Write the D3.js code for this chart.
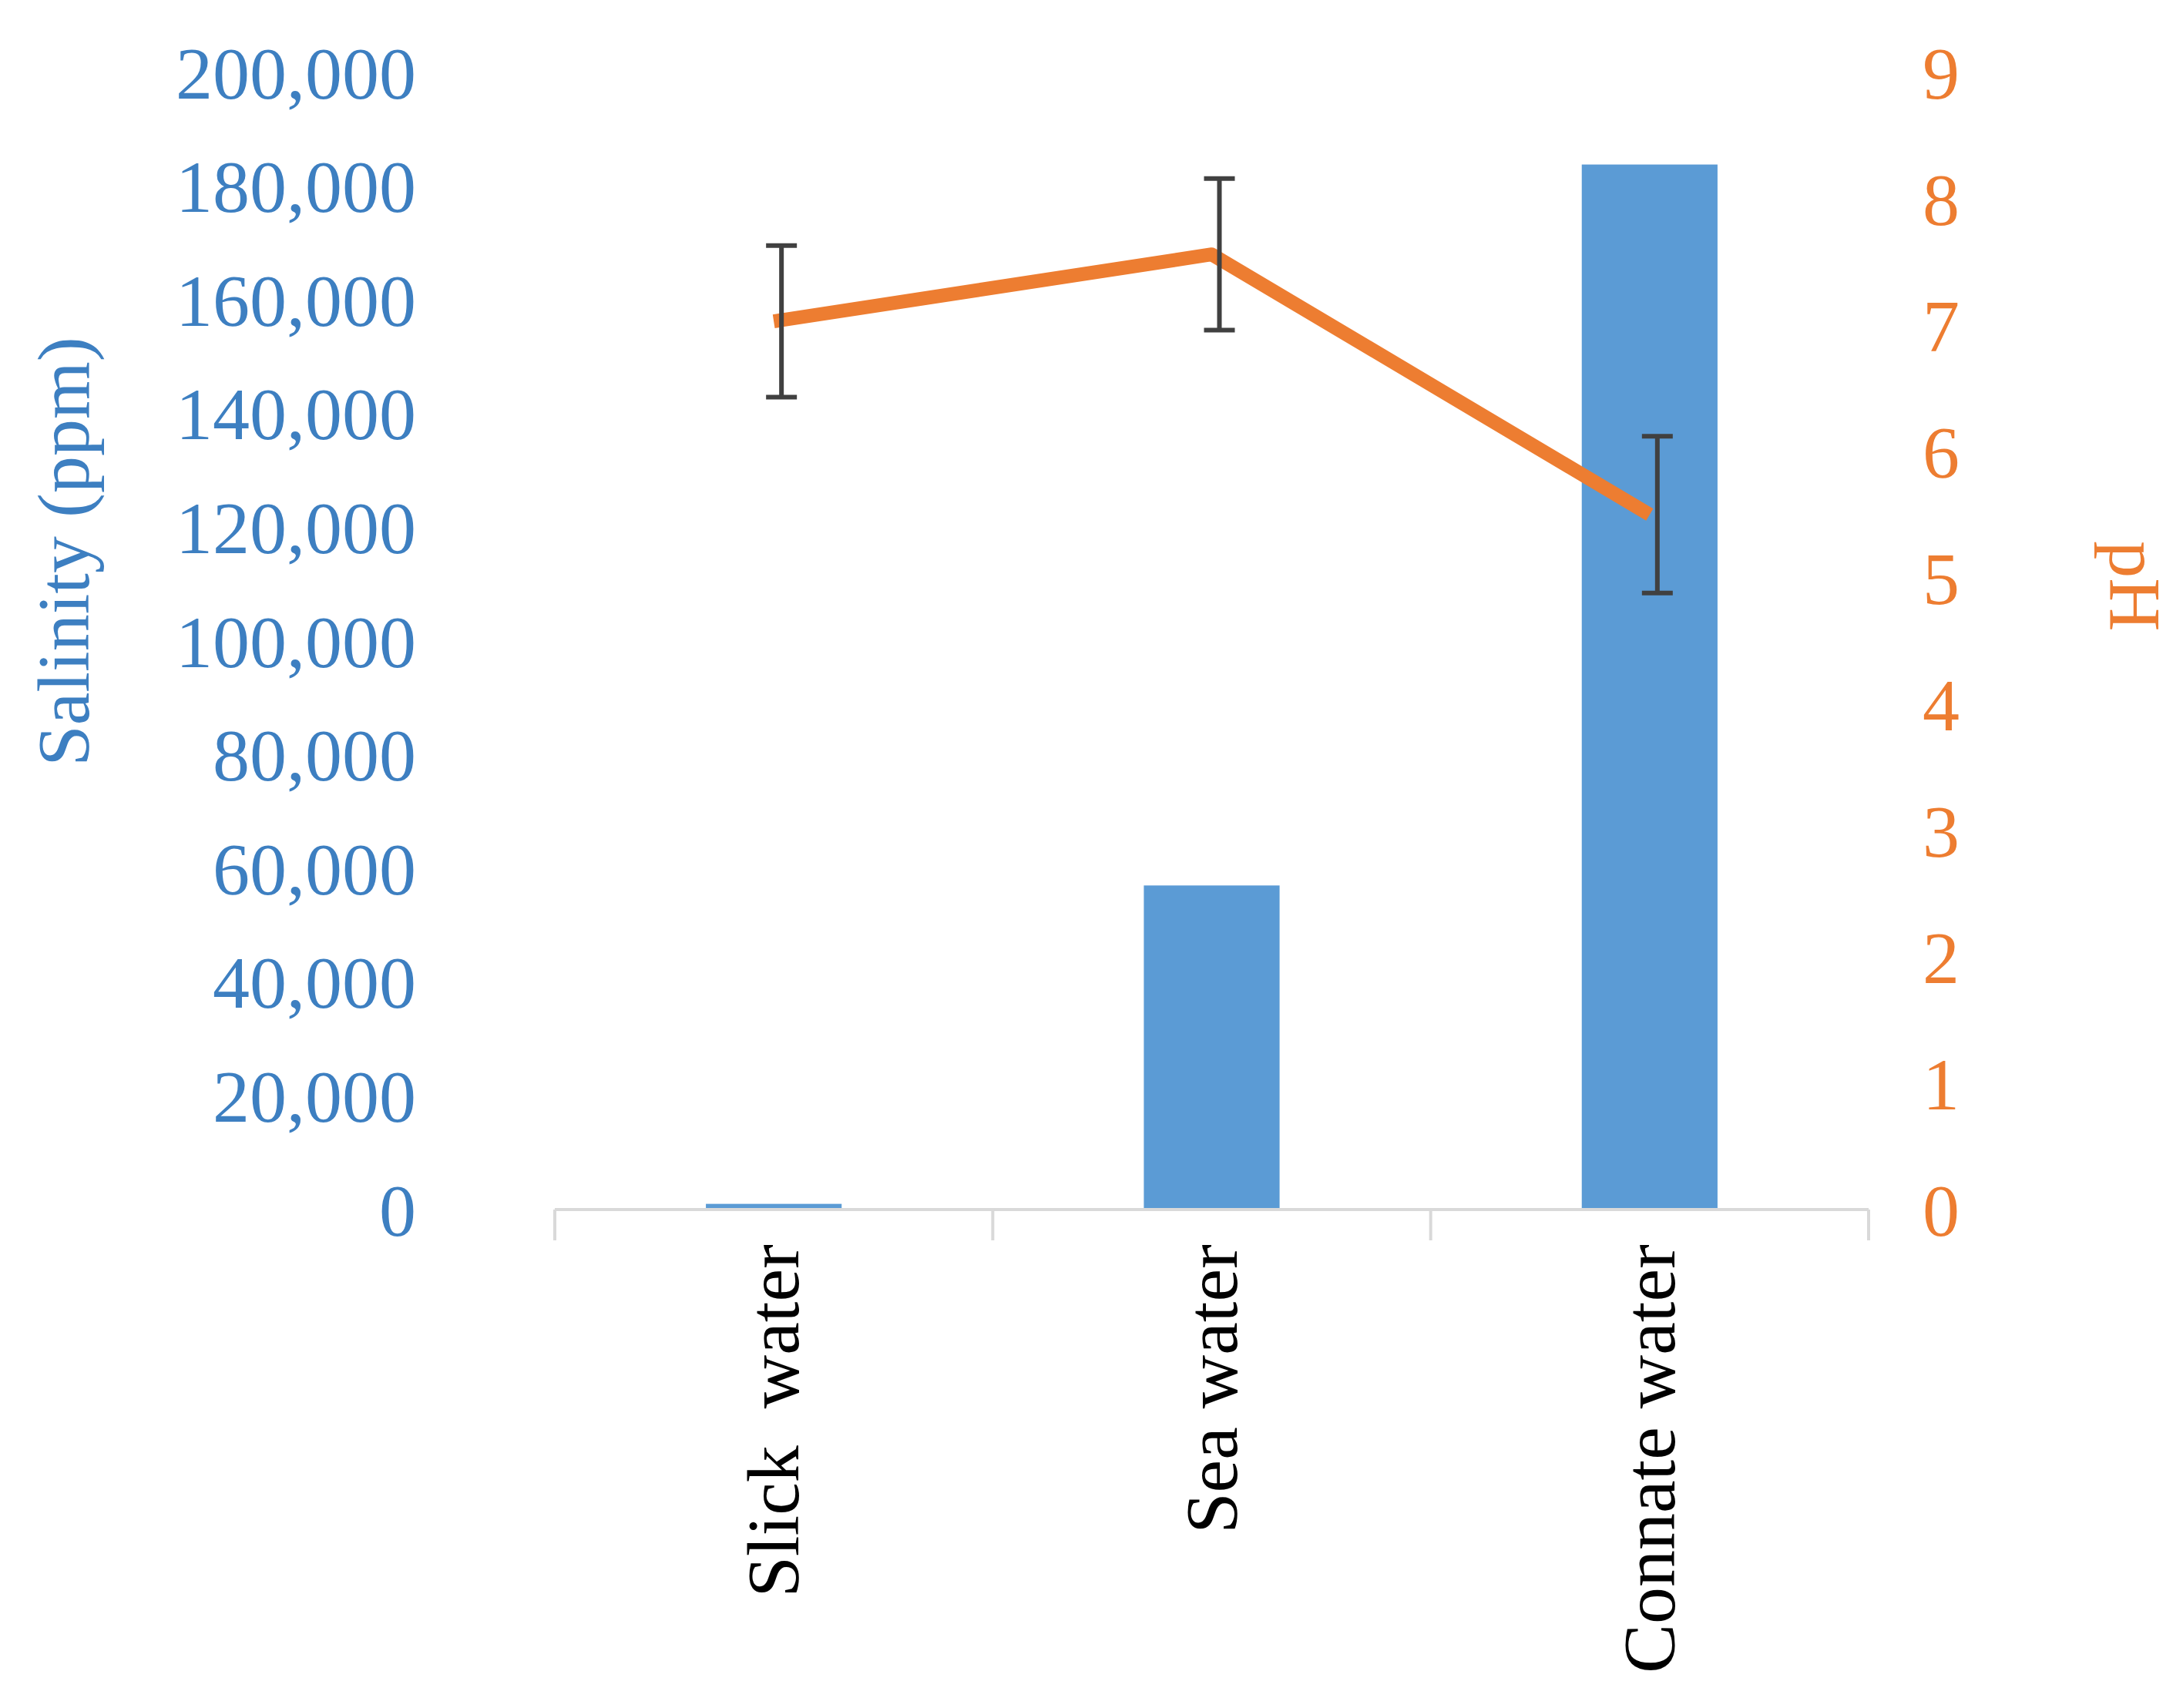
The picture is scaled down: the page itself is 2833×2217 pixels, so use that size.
<!DOCTYPE html>
<html><head><meta charset="utf-8">
<script src="https://cdn.jsdelivr.net/npm/d3@7"></script>
<style>body{margin:0;background:#fff}svg{display:block}</style>
</head><body>
<script>
const categories = ["Slick  water", "Sea water", "Connate water"];
const salinity = [1000, 57000, 183800];
const ph = [7.03, 7.56, 5.5];
const phErr = [0.6, 0.6, 0.62];
const leftTicks = [0,20000,40000,60000,80000,100000,120000,140000,160000,180000,200000];
const rightTicks = [0,1,2,3,4,5,6,7,8,9];

const W=2833,H=2217;
const svg=d3.select("body").append("svg").attr("width",W).attr("height",H);
const font="Liberation Serif, Times New Roman, serif";
const blue="#3d7fc1", orange="#ed7d31";
const x=d3.scaleBand().domain(categories).range([720,2425]).paddingInner(0.69).paddingOuter(0.345);
const xc=d=>x(d)+x.bandwidth()/2;
const yL=d3.scaleLinear().domain([0,200000]).range([1570,94]);
const yR=d3.scaleLinear().domain([0,9]).range([1570,94]);

svg.selectAll("rect.bar").data(categories).enter().append("rect")
 .attr("x",d=>x(d)).attr("width",x.bandwidth())
 .attr("y",(d,i)=>yL(salinity[i])).attr("height",(d,i)=>yL(0)-yL(salinity[i]))
 .attr("fill","#5b9bd5");

// x axis
const step=(2425-720)/3;
svg.append("line").attr("x1",720).attr("x2",2425).attr("y1",1570).attr("y2",1570).attr("stroke","#d9d9d9").attr("stroke-width",4);
[0,1,2,3].forEach(i=>svg.append("line").attr("x1",720+i*step).attr("x2",720+i*step).attr("y1",1570).attr("y2",1610).attr("stroke","#d9d9d9").attr("stroke-width",4));

// left ticks
svg.selectAll("text.l").data(leftTicks).enter().append("text")
 .attr("x",540).attr("y",d=>yL(d)).attr("dy","0.35em").attr("text-anchor","end")
 .attr("font-family",font).attr("font-size",96).attr("fill",blue).text(d3.format(","));
svg.selectAll("text.r").data(rightTicks).enter().append("text")
 .attr("x",2495).attr("y",d=>yR(d)).attr("dy","0.35em").attr("text-anchor","start")
 .attr("font-family",font).attr("font-size",96).attr("fill",orange).text(d=>d);

svg.append("text").attr("transform","translate(115,716) rotate(-90)").attr("text-anchor","middle")
 .attr("font-family",font).attr("font-size",96).attr("fill",blue).text("Salinity (ppm)");
svg.append("text").attr("transform","translate(2738,761) rotate(90)").attr("text-anchor","middle")
 .attr("font-family",font).attr("font-size",96).attr("fill",orange).text("pH");

categories.forEach(c=>svg.append("text").attr("transform",`translate(${xc(c)+32},1615) rotate(-90)`)
 .attr("text-anchor","end").attr("font-family",font).attr("font-size",96).attr("fill","#000")
 .attr("xml:space","preserve").style("white-space","pre").text(c));

// line
svg.append("path").datum(categories).attr("fill","none").attr("stroke",orange).attr("stroke-width",18)
 .attr("stroke-linejoin","round")
 .attr("d",d3.line().x(d=>xc(d)).y((d,i)=>yR(ph[i])));

// error bars
categories.forEach((c,i)=>{
 const g=svg.append("g").attr("stroke","#404040").attr("stroke-width",6);
 const cx=xc(c)+10;
 g.append("line").attr("x1",cx).attr("x2",cx).attr("y1",yR(ph[i]-phErr[i])).attr("y2",yR(ph[i]+phErr[i]));
 [ph[i]-phErr[i],ph[i]+phErr[i]].forEach(v=>g.append("line").attr("x1",cx-20).attr("x2",cx+20).attr("y1",yR(v)).attr("y2",yR(v)));
});
</script>
</body></html>
